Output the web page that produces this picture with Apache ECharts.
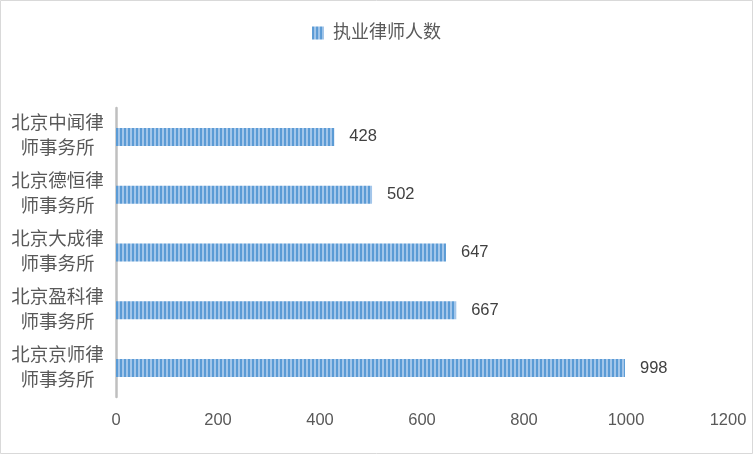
<!DOCTYPE html>
<html>
<head>
<meta charset="utf-8">
<script src="https://cdn.jsdelivr.net/npm/echarts@6/dist/echarts.min.js"></script>
<style>
html,body{margin:0;padding:0;background:#fff;}
#c{width:753px;height:454px;}
</style>
</head>
<body>
<div id="c"></div>
<script>
const seriesName = '执业律师人数';
const categories = ['北京京师律师事务所', '北京盈科律师事务所', '北京大成律师事务所', '北京德恒律师事务所', '北京中闻律师事务所'];
const lawyerCounts = [998, 667, 647, 502, 428];
const xTicks = { min: 0, max: 1200, interval: 200 };

const pc = document.createElement('canvas');
pc.width = 4; pc.height = 4;
const ctx = pc.getContext('2d');
ctx.fillStyle = '#A3C6EA'; ctx.fillRect(0, 0, 4, 4);
ctx.fillStyle = '#5B9BD5'; ctx.fillRect(0, 0, 2, 4);
const stripe = { image: pc, repeat: 'repeat' };

const FONT = '"Liberation Sans", "Noto Sans CJK SC", sans-serif';
const chart = echarts.init(document.getElementById('c'), null, { renderer: 'canvas' });
chart.setOption({
  animation: false,
  backgroundColor: '#fff',
  textStyle: { fontFamily: FONT },
  graphic: [{
    type: 'rect', silent: true, z: -1,
    shape: { x: 0.5, y: 0.5, width: 752, height: 453 },
    style: { fill: 'none', stroke: '#D9D9D9', lineWidth: 1 }
  }],
  legend: {
    top: 19, left: 'center',
    itemWidth: 12, itemHeight: 13, itemGap: 10,
    icon: 'rect',
    textStyle: { fontSize: 18, color: '#595959', fontFamily: FONT, padding: [0, 0, 0, 4] },
    data: [seriesName]
  },
  grid: { left: 116, right: 25, top: 108, bottom: 57, containLabel: false },
  xAxis: {
    type: 'value', min: xTicks.min, max: xTicks.max, interval: xTicks.interval,
    axisLine: { show: false }, axisTick: { show: false }, splitLine: { show: false },
    axisLabel: { fontSize: 16.5, color: '#595959', margin: 15, fontFamily: FONT, formatter: v => String(v) }
  },
  yAxis: {
    type: 'category', data: categories, offset: 1.5,
    axisLine: { show: true, lineStyle: { color: '#BFBFBF', width: 2.5 } },
    axisTick: { show: false },
    axisLabel: {
      fontSize: 18.5, color: '#595959', lineHeight: 25, align: 'center', margin: 57,
      fontFamily: FONT,
      formatter: v => v.slice(0, 5) + '\n' + v.slice(5)
    }
  },
  series: [{
    name: seriesName, type: 'bar', data: lawyerCounts, barWidth: 18,
    itemStyle: { color: stripe },
    label: { show: true, position: 'right', distance: 15, fontSize: 16.5, color: '#404040', fontFamily: FONT }
  }]
});
</script>
</body>
</html>
